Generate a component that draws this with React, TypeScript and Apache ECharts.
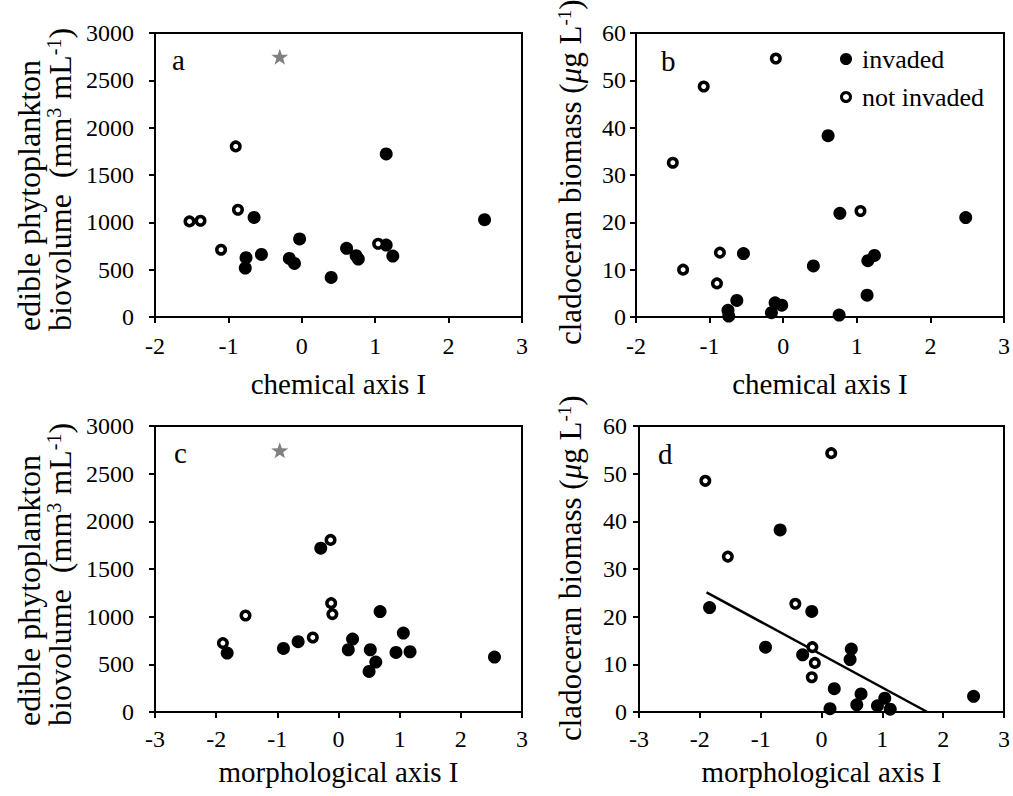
import React, { useEffect, useRef } from "react";
import * as echarts from "echarts";

const FONT = "'Liberation Serif', 'Times New Roman', serif";

// ---------- data ----------
// a: chemical axis I vs edible phytoplankton biovolume
const aInvaded: [number, number][] = [
  [-0.65, 1052], [-0.76, 626], [-0.77, 517], [-0.55, 661], [-0.17, 619],
  [-0.1, 566], [-0.03, 824], [0.4, 418], [0.61, 725], [0.74, 648],
  [0.77, 612], [1.15, 1722], [1.15, 760], [1.24, 644], [2.49, 1028],
];
const aNotInvaded: [number, number][] = [
  [-1.53, 1010], [-1.38, 1017], [-1.1, 711], [-0.9, 1802], [-0.87, 1133], [1.04, 774],
];
const aOffScale: [number, number][] = [[-0.3, 2750]];

// b: chemical axis I vs cladoceran biomass
const bInvaded: [number, number][] = [
  [-0.75, 1.4], [-0.74, 0.2], [-0.63, 3.5], [-0.54, 13.4], [-0.16, 0.9],
  [-0.11, 3.0], [-0.02, 2.5], [0.41, 10.8], [0.61, 38.3], [0.76, 0.4],
  [0.77, 21.9], [1.14, 4.6], [1.15, 11.9], [1.24, 13.0], [2.48, 21.0],
];
const bNotInvaded: [number, number][] = [
  [-1.5, 32.6], [-1.36, 10.0], [-1.08, 48.7], [-0.9, 7.1], [-0.86, 13.6], [-0.1, 54.6], [1.05, 22.4],
];

// c: morphological axis I vs edible phytoplankton biovolume
const cInvaded: [number, number][] = [
  [-1.82, 618], [-0.9, 667], [-0.66, 737], [-0.29, 1718], [0.16, 653],
  [0.23, 765], [0.52, 653], [0.5, 425], [0.61, 524], [0.68, 1054],
  [0.94, 625], [1.06, 828], [1.17, 632], [2.55, 576],
];
const cNotInvaded: [number, number][] = [
  [-1.89, 723], [-1.52, 1012], [-0.42, 782], [-0.13, 1805], [-0.12, 1142], [-0.1, 1027],
];
const cOffScale: [number, number][] = [[-0.96, 2745]];

// d: morphological axis I vs cladoceran biomass
const dInvaded: [number, number][] = [
  [-1.84, 21.9], [-0.92, 13.6], [-0.68, 38.2], [-0.31, 12.0], [-0.16, 21.1],
  [0.14, 0.7], [0.21, 4.9], [0.49, 13.2], [0.47, 11.0], [0.58, 1.5],
  [0.65, 3.8], [0.92, 1.3], [1.04, 2.9], [1.13, 0.6], [2.5, 3.3],
];
const dNotInvaded: [number, number][] = [
  [-1.91, 48.5], [-1.54, 32.6], [-0.43, 22.7], [-0.15, 13.6], [-0.11, 10.3], [-0.16, 7.3], [0.16, 54.3],
];
const dTrend: [number, number][] = [[-1.89, 25.1], [1.74, 0]];

const chemTicks = { min: -2, max: 3 };
const morphTicks = { min: -3, max: 3 };
const bioRange = { min: 0, max: 3000, interval: 500 };
const cladRange = { min: 0, max: 60, interval: 10 };

const STAR = "path://M0,-10 L2.35,-3.24 L9.51,-3.09 L3.8,1.24 L5.88,8.09 L0,4 L-5.88,8.09 L-3.8,1.24 L-9.51,-3.09 L-2.35,-3.24 Z";

function buildOption(): any {
  const gridBase = { show: true, borderColor: "#000", borderWidth: 2, backgroundColor: "transparent" };
  const grid = [
    { ...gridBase, left: 155, top: 33, width: 367, height: 284 },
    { ...gridBase, left: 636, top: 33, width: 370, height: 284 },
    { ...gridBase, left: 155, top: 426, width: 367, height: 286 },
    { ...gridBase, left: 639, top: 426, width: 367, height: 286 },
  ];
  const axisCommon = {
    type: "value",
    splitLine: { show: false },
    axisLine: { show: true, onZero: false, lineStyle: { color: "#000", width: 2 } },
    axisTick: { show: true, length: 6, lineStyle: { color: "#000", width: 2 } },
  };
  const fmt = (v: number) => String(v);
  const lbl = (margin: number) => ({ fontFamily: FONT, fontSize: 24, color: "#000", margin, formatter: fmt });
  const nameStyle = { fontFamily: FONT, fontSize: 29, color: "#000" };
  const xAxis = [
    { ...axisCommon, gridIndex: 0, ...chemTicks, interval: 1, name: "chemical axis I", nameLocation: "middle", nameGap: 52, nameTextStyle: nameStyle, axisLabel: lbl(17) },
    { ...axisCommon, gridIndex: 1, ...chemTicks, interval: 1, name: "chemical axis I", nameLocation: "middle", nameGap: 52, nameTextStyle: nameStyle, axisLabel: lbl(17) },
    { ...axisCommon, gridIndex: 2, ...morphTicks, interval: 1, name: "morphological axis I", nameLocation: "middle", nameGap: 45, nameTextStyle: nameStyle, axisLabel: lbl(15) },
    { ...axisCommon, gridIndex: 3, ...morphTicks, interval: 1, name: "morphological axis I", nameLocation: "middle", nameGap: 45, nameTextStyle: nameStyle, axisLabel: lbl(15) },
  ];
  const yAxis = [
    { ...axisCommon, gridIndex: 0, ...bioRange, axisLabel: lbl(21) },
    { ...axisCommon, gridIndex: 1, ...cladRange, axisLabel: lbl(10) },
    { ...axisCommon, gridIndex: 2, ...bioRange, axisLabel: lbl(21) },
    { ...axisCommon, gridIndex: 3, ...cladRange, axisLabel: lbl(12) },
  ];

  const filled = (idx: number, data: [number, number][]) => ({
    type: "scatter", name: "invaded", xAxisIndex: idx, yAxisIndex: idx, data, clip: false,
    symbol: "circle", symbolSize: 13, itemStyle: { color: "#000", opacity: 1 }, z: 3,
  });
  const open = (idx: number, data: [number, number][]) => ({
    type: "scatter", name: "not invaded", xAxisIndex: idx, yAxisIndex: idx, data, clip: false,
    symbol: "circle", symbolSize: 8.5, itemStyle: { color: "#fff", borderColor: "#000", borderWidth: 3.5, opacity: 1 }, z: 4,
  });
  const star = (idx: number, data: [number, number][]) => ({
    type: "scatter", name: "off scale", xAxisIndex: idx, yAxisIndex: idx, data, clip: false,
    symbol: STAR, symbolSize: [17, 16], itemStyle: { color: "#808080", opacity: 1 }, z: 3,
  });

  const series = [
    filled(0, aInvaded), open(0, aNotInvaded), star(0, aOffScale),
    filled(1, bInvaded), open(1, bNotInvaded),
    filled(2, cInvaded), open(2, cNotInvaded), star(2, cOffScale),
    filled(3, dInvaded), open(3, dNotInvaded),
    {
      type: "line", name: "trend", xAxisIndex: 3, yAxisIndex: 3, data: dTrend,
      symbol: "none", lineStyle: { color: "#000", width: 2.5 }, z: 2,
    },
  ];

  const mkRich = (fs: number) => ({
    t: { fontSize: fs, fontFamily: FONT, fill: "#000", lineHeight: fs },
    i: { fontSize: fs, fontFamily: FONT, fontStyle: "italic", fill: "#000", lineHeight: fs },
    s: { fontSize: Math.round(fs * 0.62), fontFamily: FONT, fill: "#000", lineHeight: Math.round(fs * 0.62), verticalAlign: "top" },
  });
  const ytitle = (x: number, y: number, text: string, fs: number) => ({
    type: "text", x, y, rotation: Math.PI / 2, z: 10,
    style: { text, rich: mkRich(fs), fill: "#000", align: "left", verticalAlign: "middle", fontFamily: FONT, fontSize: fs },
  });
  const letter = (x: number, y: number, text: string) => ({
    type: "text", x, y, z: 10,
    style: { text, fill: "#000", fontFamily: FONT, fontSize: 29, align: "left", verticalAlign: "middle" },
  });

  const graphic = [
    ytitle(28.5, 331, "{t|edible phytoplankton}", 32),
    ytitle(59.5, 331, "{t|biovolume  (mm}{s|3}{t| mL}{s|-1}{t|)}", 32),
    ytitle(28.5, 726, "{t|edible phytoplankton}", 32),
    ytitle(59.5, 726, "{t|biovolume  (mm}{s|3}{t| mL}{s|-1}{t|)}", 32),
    ytitle(570, 345, "{t|cladoceran biomass (}{i|μ}{t|g L}{s|-1}{t|)}", 31),
    ytitle(570, 741, "{t|cladoceran biomass (}{i|μ}{t|g L}{s|-1}{t|)}", 31),
    letter(172, 60, "a"),
    letter(661, 61, "b"),
    letter(174, 453, "c"),
    letter(658, 454, "d"),
  ];

  return {
    animation: false,
    backgroundColor: "#fff",
    grid,
    xAxis,
    yAxis,
    series,
    graphic,
    legend: {
      data: [
        { name: "invaded", icon: "circle", itemStyle: { color: "#000", borderColor: "#000", borderWidth: 3, opacity: 1 } },
        { name: "not invaded", icon: "circle", itemStyle: { color: "#fff", borderColor: "#000", borderWidth: 3, opacity: 1 } },
      ],
      orient: "vertical",
      left: 835,
      top: 41,
      itemWidth: 22,
      itemHeight: 9,
      itemGap: 12,
      selectedMode: false,
      textStyle: { fontFamily: FONT, fontSize: 26, color: "#000", lineHeight: 26 },
    },
  };
}

export default function App() {
  const ref = useRef<HTMLDivElement>(null);
  useEffect(() => {
    const chart = echarts.init(ref.current!, null, { renderer: "svg" });
    chart.setOption(buildOption());
    return () => chart.dispose();
  }, []);
  return (
    <div
      ref={ref}
      style={{ position: "fixed", left: 0, top: 0, width: 1013, height: 796, background: "#fff" }}
    />
  );
}
